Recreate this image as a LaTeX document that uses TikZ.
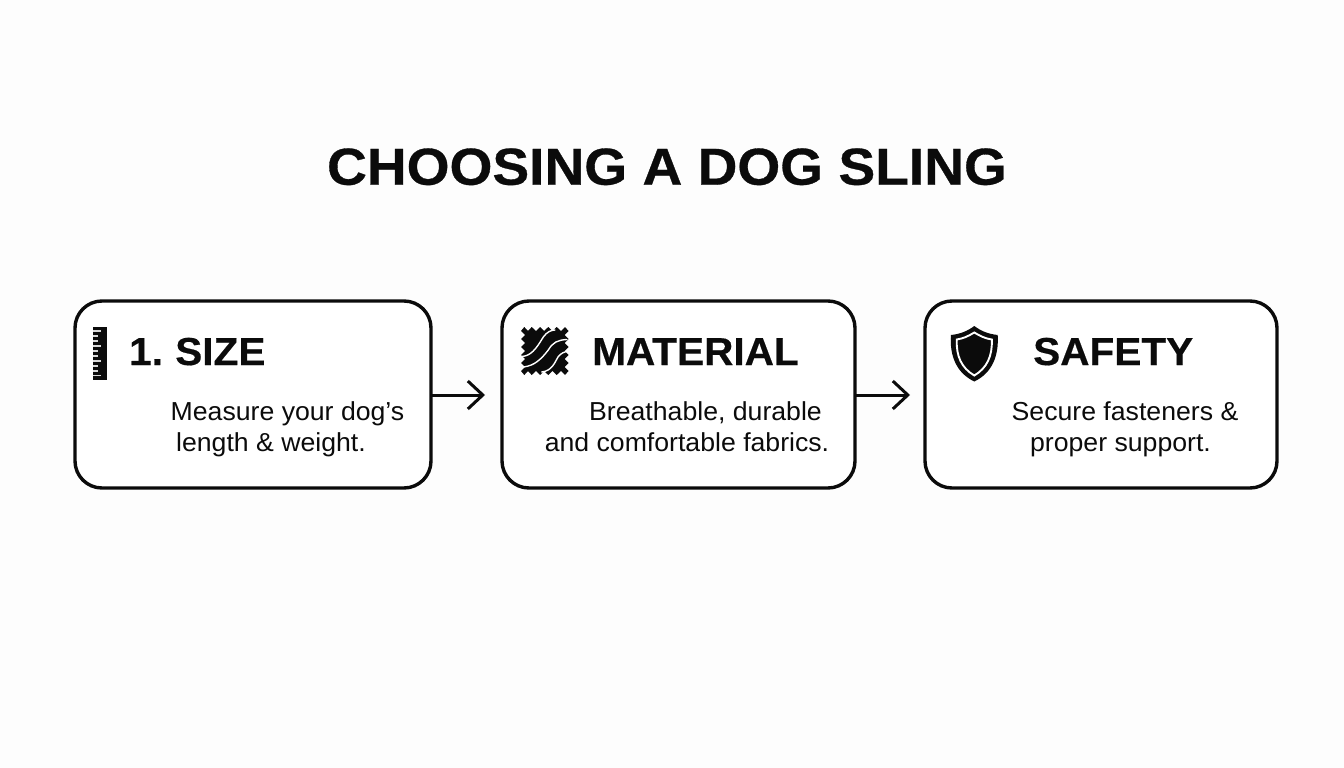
\documentclass[tikz,border=0pt]{standalone}
\usepackage{fontspec}
\setmainfont{Liberation Sans}
\newfontfamily\titlefont[FakeStretch=1.06,FakeBold=0.6]{Liberation Sans Bold}
\newfontfamily\headfont[FakeStretch=1.04,FakeBold=0.4]{Liberation Sans Bold}
\newfontfamily\bodyfont[FakeStretch=1.025]{Liberation Sans}
\usetikzlibrary{arrows.meta}
\definecolor{ink}{HTML}{0B0B0B}
\definecolor{paper}{HTML}{FDFDFD}
\tikzset{
  card/.style={draw=ink,line width=3.4pt,outer sep=0pt,rounded corners=27pt,fill=white},
  flow/.style={draw=ink,line width=3pt,-{Straight Barb[length=15pt,width=28pt,line width=3pt]}},
  titletext/.style={anchor=base,inner sep=0,text=ink,font=\fontsize{52}{60}\selectfont\titlefont},
  headtext/.style={anchor=base west,inner sep=0,text=ink,font=\fontsize{39}{44}\selectfont\headfont},
  bodytext/.style={anchor=base,inner sep=0,text=ink,font=\fontsize{26}{30}\selectfont\bodyfont},
  wave/.style={draw=white,line width=1.4pt,line cap=round},
}
\begin{document}
\begin{tikzpicture}[x=1pt,y=-1pt]
\useasboundingbox[fill=paper] (0,0) rectangle (1344,768);
\node[titletext] (title) at (667,184.7) {CHOOSING A DOG SLING};
% cards
\node[card,minimum width=356pt,minimum height=187pt,anchor=north west] (c1) at (75,301) {};
\node[card,minimum width=353pt,minimum height=187pt,anchor=north west] (c2) at (502,301) {};
\node[card,minimum width=352pt,minimum height=187pt,anchor=north west] (c3) at (925,301) {};
% connectors
\coordinate (e1) at (485,395);
\coordinate (e2) at (910,395);
\draw[flow] (c1.east |- e1) -- (e1);
\draw[flow] (c2.east |- e2) -- (e2);
% headings
\node[headtext] (h1) at (129,365) {1.\kern1pt\ SIZE};
\node[headtext] (h2) at (592,365) {MATERIAL};
\node[headtext] (h3) at (1033,365) {SAFETY};
% body
\node[bodytext] (b1a) at (287.5,420) {Measure your dog’s};
\node[bodytext] (b1b) at (271,451) {length \& weight.};
\node[bodytext] (b2a) at (705.5,420) {Breathable, durable};
\node[bodytext] (b2b) at (687,451) {and comfortable fabrics.};
\node[bodytext] (b3a) at (1125,420) {Secure fasteners \&};
\node[bodytext] (b3b) at (1120.5,451) {proper support.};
% ruler icon
\fill[ink] (92.5,327) rectangle (106.7,379.5);
\foreach \y/\l in {331/8,336/5,341/5,346/8,351/5,356/5,361/8,366/5,371/5,375.5/8}
  \fill[white!85!ink] (92.5,\y-0.8) rectangle ++(\l,1.6);
% fabric icon
\fill[ink] (524.3,327) -- (528,331) -- (531.7,327) -- (536,331) -- (540,327) -- (544,331) -- (548.3,327) -- (552.5,331) -- (556.7,327) -- (561,331) -- (565,327) -- (568.5,331)
 -- (564.5,335) -- (568.5,339) -- (564.5,343) -- (568.5,347) -- (564.5,351) -- (568.5,355) -- (564.5,359) -- (568.5,363) -- (564.5,367) -- (568.5,371)
 -- (565,375) -- (561,371) -- (556.7,375) -- (552.5,371) -- (548.3,375) -- (544,371) -- (540,375) -- (536,371) -- (531.7,375) -- (528,371) -- (524.3,375) -- (521,371)
 -- (525,367) -- (521,363) -- (525,359) -- (521,355) -- (525,351) -- (521,347) -- (525,343) -- (521,339) -- (525,335) -- (521,331) -- cycle;
\draw[wave] (521.5,356.5) .. controls (531,356) and (536,349) .. (543.3,337) .. controls (547,332) and (551,330) .. (555,330);
\draw[wave] (523,367) .. controls (535,366) and (542,358) .. (548.3,350) .. controls (553,342) and (558,340) .. (567,339.5);
\draw[wave] (541.7,372) .. controls (552,371) and (555,362) .. (558,357) .. controls (561,353) and (564,352) .. (568.5,351);
% shield icon
\fill[ink] (974.3,326) .. controls (981,331) and (988,334) .. (997.7,335) .. controls (999,356) and (992,373) .. (974.3,381.5) .. controls (956.5,373) and (949.5,356) .. (950.9,335) .. controls (960.5,334) and (967.5,331) .. cycle;
\draw[white,line width=1.9pt] (974.3,332.5) .. controls (980,336) and (985,338.5) .. (991.8,339.5) .. controls (992.5,356) and (987,368) .. (974.3,375.5) .. controls (961.5,368) and (956,356) .. (956.8,339.5) .. controls (963.5,338.5) and (968.5,336) .. cycle;
\end{tikzpicture}
\end{document}
